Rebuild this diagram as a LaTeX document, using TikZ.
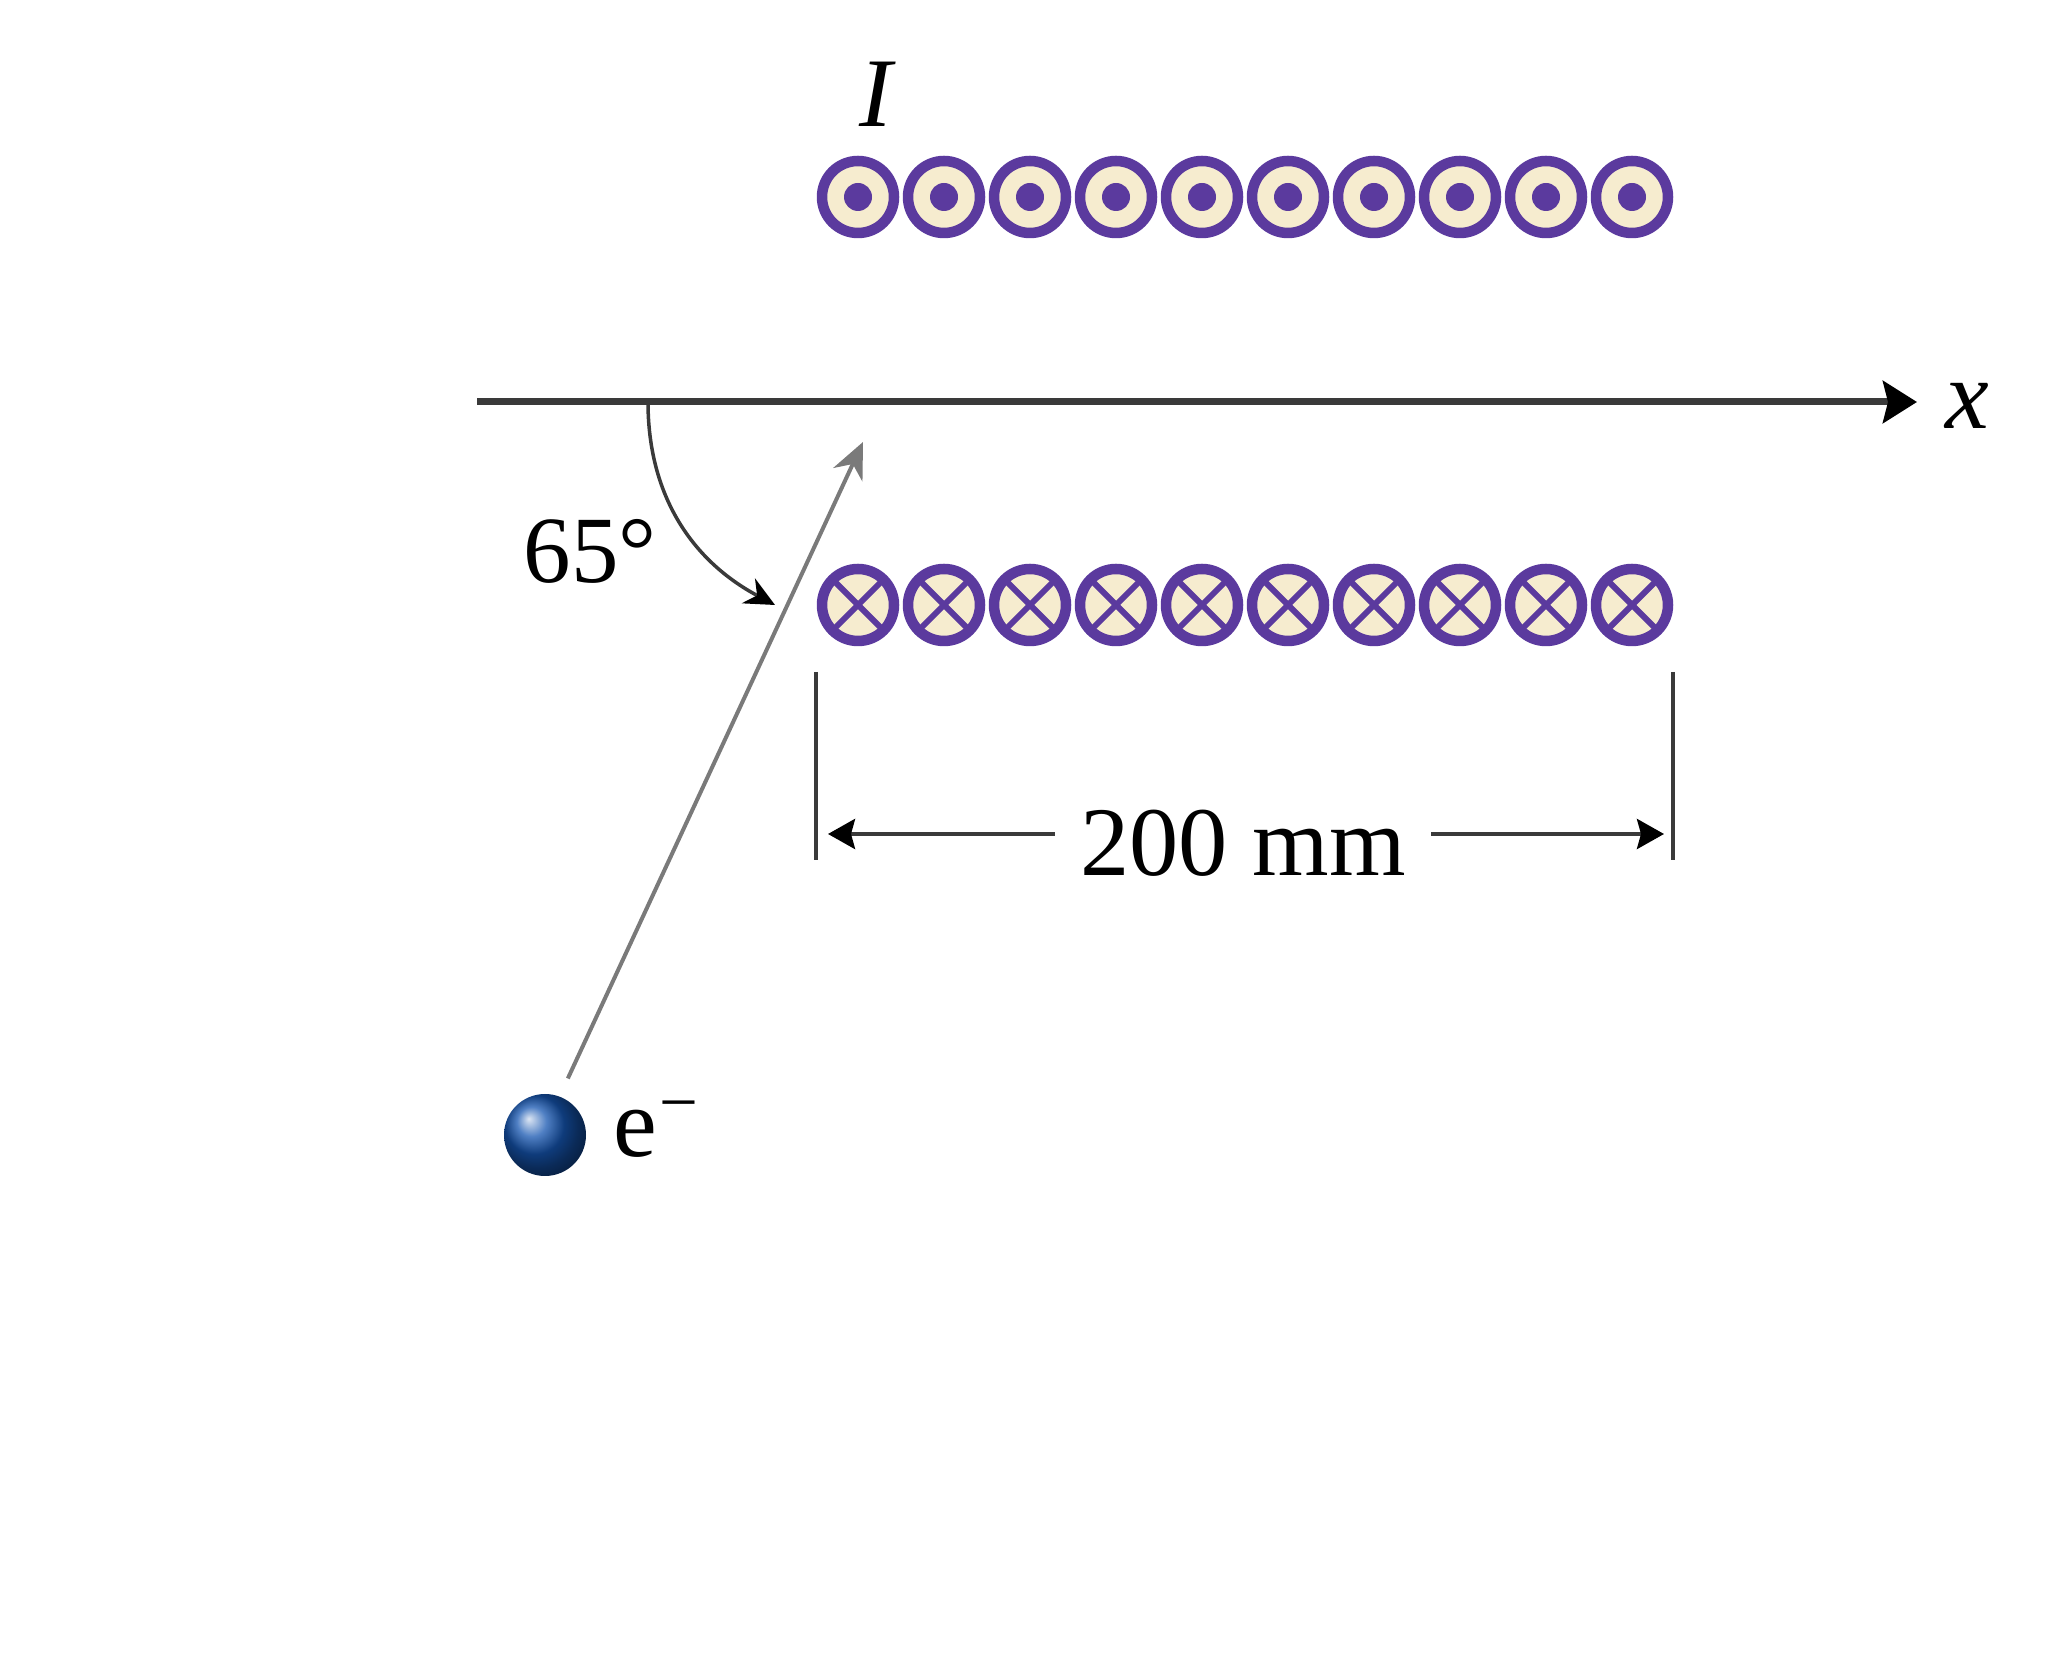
\documentclass[tikz,border=0pt]{standalone}
\usepackage{fontspec}
\setmainfont{Liberation Serif}
\usetikzlibrary{arrows.meta}
\definecolor{wirepurple}{HTML}{5B3A9E}
\definecolor{wirecream}{HTML}{F6ECCF}
\definecolor{linedark}{HTML}{3A3A3A}
\definecolor{pathgray}{HTML}{7A7A7A}
\definecolor{ballblue}{HTML}{1555B0}
\tikzset{
  wire/.style={circle,draw=wirepurple,fill=wirecream,line width=0.105cm,
    minimum size=0.72cm,inner sep=0pt},
  wireout/.style={wire,path picture={
    \fill[wirepurple] (path picture bounding box.center) circle (0.14);}},
  wirein/.style={wire,path picture={
    \draw[wirepurple,line width=0.06cm] (path picture bounding box.north west)
      -- (path picture bounding box.south east);
    \draw[wirepurple,line width=0.06cm] (path picture bounding box.north east)
      -- (path picture bounding box.south west);}},
  label/.style={font=\fontsize{28}{32}\selectfont,inner sep=0pt,anchor=base},
  axisline/.style={draw=linedark,line width=0.07cm,-{Stealth[length=0.34cm,width=0.42cm,inset=0.05cm,color=black]}},
  dimline/.style={draw=linedark,line width=0.04cm,-{Stealth[length=0.27cm,width=0.3cm,inset=0.04cm,color=black]}},
  tickline/.style={draw=linedark,line width=0.04cm},
}
\begin{document}
\begin{tikzpicture}
    \useasboundingbox (0,0) rectangle (20.46,16.62);

    % wires above the axis
    \node[wireout] (o1) at (8.58,14.65) {};
    \node[wireout] (o2) at (9.44,14.65) {};
    \node[wireout] (o3) at (10.30,14.65) {};
    \node[wireout] (o4) at (11.16,14.65) {};
    \node[wireout] (o5) at (12.02,14.65) {};
    \node[wireout] (o6) at (12.88,14.65) {};
    \node[wireout] (o7) at (13.74,14.65) {};
    \node[wireout] (o8) at (14.60,14.65) {};
    \node[wireout] (o9) at (15.46,14.65) {};
    \node[wireout] (o10) at (16.32,14.65) {};
    \node[label,font=\fontsize{28}{32}\selectfont\itshape] (current) at (8.76,15.35) {I};

    % wires below the axis
    \node[wirein] (i1) at (8.58,10.57) {};
    \node[wirein] (i2) at (9.44,10.57) {};
    \node[wirein] (i3) at (10.30,10.57) {};
    \node[wirein] (i4) at (11.16,10.57) {};
    \node[wirein] (i5) at (12.02,10.57) {};
    \node[wirein] (i6) at (12.88,10.57) {};
    \node[wirein] (i7) at (13.74,10.57) {};
    \node[wirein] (i8) at (14.60,10.57) {};
    \node[wirein] (i9) at (15.46,10.57) {};
    \node[wirein] (i10) at (16.32,10.57) {};

    % x axis
    \coordinate (axisstart) at (4.77,12.60);
    \coordinate (axisend) at (19.17,12.60);
    \draw[axisline] (axisstart)--(axisend);
    \node[label,font=\fontsize{28}{32}\selectfont\itshape] (xlabel) at (19.67,12.33) {x};

    % angle
    \coordinate (anglestart) at (6.48,12.60);
    \coordinate (angleend) at (7.75,10.57);
    \draw[draw=linedark,line width=0.035cm,-{Stealth[length=0.3cm,width=0.28cm,color=black]}]
          (anglestart) to[out=-90,in=152] (angleend);
    \node[label,font=\fontsize{27}{32}\selectfont] (anglelabel) at (5.90,10.79) {65°};

    % electron and its path
    \node[circle,shading=ball,ball color=ballblue,minimum size=0.82cm,inner sep=0pt,outer sep=0.2cm]
          (electron) at (5.45,5.27) {};
    \node[label,anchor=base west] (electronlabel) at (6.13,5.05) {e\textsuperscript{\kern0.03em−}};
    \coordinate (pathend) at (8.63,12.20);
    \draw[draw=pathgray,line width=0.04cm,-{Stealth[length=0.36cm,width=0.32cm]}]
          (electron.68)--(pathend);

    % width of the sheet
    \coordinate (dimlefttop) at (8.16,9.90);
    \coordinate (dimleftbot) at (8.16,8.02);
    \coordinate (dimrighttop) at (16.73,9.90);
    \coordinate (dimrightbot) at (16.73,8.02);
    \coordinate (dimleft) at (8.28,8.28);
    \coordinate (dimright) at (16.64,8.28);
    \draw[tickline] (dimlefttop)--(dimleftbot);
    \draw[tickline] (dimrighttop)--(dimrightbot);
    \node[label,inner xsep=0.25cm] (dimtext) at (12.43,7.86) {200 mm};
    \draw[dimline] (dimtext.west |- dimleft)--(dimleft);
    \draw[dimline] (dimtext.east |- dimright)--(dimright);
  \end{tikzpicture}
\end{document}
